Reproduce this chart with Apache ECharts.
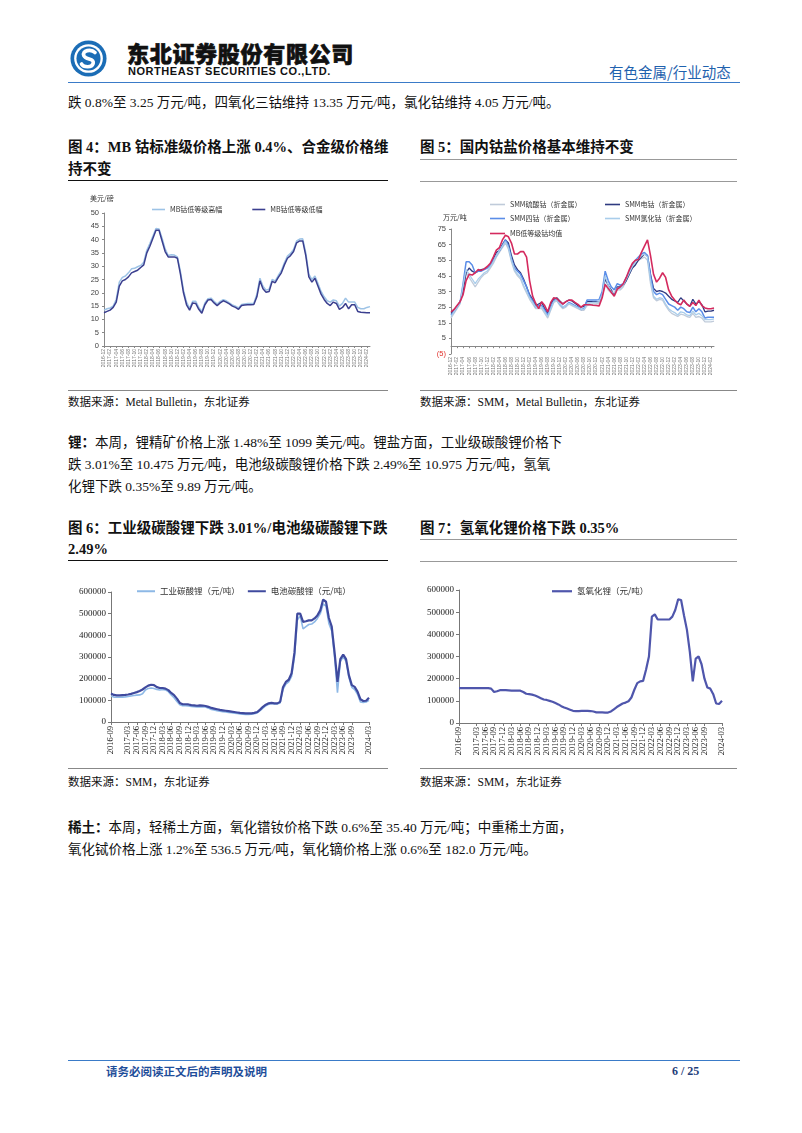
<!DOCTYPE html>
<html><head><meta charset="utf-8">
<script src="https://cdn.jsdelivr.net/npm/echarts@6/dist/echarts.min.js"></script>
<style>
html,body{margin:0;padding:0;background:#fff;}
body{width:802px;height:1133px;position:relative;overflow:hidden;font-family:"Liberation Serif","Noto Sans CJK SC",serif;color:#111;}
.abs{position:absolute;white-space:nowrap;}
.p{font-size:13.5px;line-height:22px;}
.t{font-size:14.5px;font-weight:bold;line-height:22px;}
.src{font-size:11.5px;line-height:16px;}
.hr{position:absolute;height:0;}
.chart{position:absolute;}
</style></head><body>

<svg class="abs" style="left:70px;top:40px" width="37" height="37" viewBox="0 0 40 40">
<circle cx="20" cy="20" r="19.5" fill="#1B6DB6"/>
<circle cx="20" cy="20" r="15.5" fill="#fff"/>
<circle cx="20" cy="20" r="13" fill="#1B6DB6"/>
<path d="M27 13.5 C23 9.5 12.5 11 15 17 C17.5 22 26.5 19 25 25.5 C23.5 30.5 14.5 29.5 12.5 26" stroke="#fff" stroke-width="4" fill="none" stroke-linecap="round"/>
</svg>
<div class="abs" style="left:127px;top:39px;font-family:'Noto Sans CJK SC';font-weight:900;font-size:22px;line-height:26px;letter-spacing:0.7px;color:#111;-webkit-text-stroke:0.7px #111">东北证券股份有限公司</div>
<div class="abs" style="left:128px;top:64px;font-family:'Liberation Sans',Arial,sans-serif;font-weight:bold;font-size:11px;line-height:14px;letter-spacing:0.55px;color:#111">NORTHEAST SECURITIES CO.,LTD.</div>
<div class="abs" style="left:609px;top:62px;font-family:'Noto Sans CJK SC';font-size:14.5px;line-height:20px;color:#1F62AE">有色金属/行业动态</div>
<div class="hr" style="left:68px;top:82px;width:672px;border-top:1.5px solid #3A7BC8"></div>

<div class="abs p" style="left:68px;top:92px">跌 0.8%至 3.25 万元/吨，四氧化三钴维持 13.35 万元/吨，氯化钴维持 4.05 万元/吨。</div>

<div class="abs t" style="left:68px;top:136px">图 4：MB 钴标准级价格上涨 0.4%、合金级价格维</div>
<div class="abs t" style="left:68px;top:158px">持不变</div>
<div class="hr" style="left:68px;top:180px;width:320px;border-top:1.5px solid #111"></div>
<div class="abs t" style="left:420px;top:136px">图 5：国内钴盐价格基本维持不变</div>
<div class="hr" style="left:420px;top:159px;width:317px;border-top:1px solid #999"></div>
<div class="hr" style="left:420px;top:181px;width:317px;border-top:1px solid #999"></div>

<div id="c4" class="chart" style="left:68px;top:190px;width:320px;height:195px"></div>
<div id="c5" class="chart" style="left:420px;top:190px;width:317px;height:195px"></div>

<div class="hr" style="left:68px;top:390px;width:320px;border-top:1px solid #888"></div>
<div class="hr" style="left:420px;top:390px;width:317px;border-top:1px solid #888"></div>
<div class="abs src" style="left:68px;top:394px">数据来源：Metal Bulletin，东北证券</div>
<div class="abs src" style="left:420px;top:394px">数据来源：SMM，Metal Bulletin，东北证券</div>

<div class="abs p" style="left:68px;top:432px"><b>锂：</b>本周，锂精矿价格上涨 1.48%至 1099 美元/吨。锂盐方面，工业级碳酸锂价格下</div>
<div class="abs p" style="left:68px;top:454px">跌 3.01%至 10.475 万元/吨，电池级碳酸锂价格下跌 2.49%至 10.975 万元/吨，氢氧</div>
<div class="abs p" style="left:68px;top:476px">化锂下跌 0.35%至 9.89 万元/吨。</div>

<div class="abs t" style="left:68px;top:517px">图 6：工业级碳酸锂下跌 3.01%/电池级碳酸锂下跌</div>
<div class="abs t" style="left:68px;top:538px">2.49%</div>
<div class="hr" style="left:68px;top:560px;width:320px;border-top:1.5px solid #111"></div>
<div class="abs t" style="left:420px;top:517px">图 7：氢氧化锂价格下跌 0.35%</div>
<div class="hr" style="left:420px;top:539px;width:317px;border-top:1px solid #999"></div>
<div class="hr" style="left:420px;top:561px;width:317px;border-top:1px solid #999"></div>

<div id="c6" class="chart" style="left:68px;top:565px;width:320px;height:200px"></div>
<div id="c7" class="chart" style="left:420px;top:565px;width:317px;height:200px"></div>

<div class="hr" style="left:68px;top:768px;width:320px;border-top:1px solid #888"></div>
<div class="hr" style="left:420px;top:768px;width:317px;border-top:1px solid #888"></div>
<div class="abs src" style="left:68px;top:774px">数据来源：SMM，东北证券</div>
<div class="abs src" style="left:420px;top:774px">数据来源：SMM，东北证券</div>

<div class="abs p" style="left:68px;top:817px"><b>稀土：</b>本周，轻稀土方面，氧化镨钕价格下跌 0.6%至 35.40 万元/吨；中重稀土方面，</div>
<div class="abs p" style="left:68px;top:839px">氧化铽价格上涨 1.2%至 536.5 万元/吨，氧化镝价格上涨 0.6%至 182.0 万元/吨。</div>

<div class="hr" style="left:68px;top:1060px;width:672px;border-top:1.5px solid #3A7BC8"></div>
<div class="abs" style="left:106px;top:1063px;font-family:'Noto Sans CJK SC';font-weight:bold;font-size:11.5px;line-height:16px;color:#1F4E9A">请务必阅读正文后的声明及说明</div>
<div class="abs" style="left:672px;top:1063px;font-weight:bold;font-size:12px;line-height:16px;color:#1F3E7A">6 / 25</div>

<script>
// ---- cobalt charts (fig 4, fig 5): monthly 2016-12 .. 2024-03 ----
const catsCo = ['2016-12',
'2017-01','2017-02','2017-03','2017-04','2017-05','2017-06','2017-07','2017-08','2017-09','2017-10','2017-11','2017-12',
'2018-01','2018-02','2018-03','2018-04','2018-05','2018-06','2018-07','2018-08','2018-09','2018-10','2018-11','2018-12',
'2019-01','2019-02','2019-03','2019-04','2019-05','2019-06','2019-07','2019-08','2019-09','2019-10','2019-11','2019-12',
'2020-01','2020-02','2020-03','2020-04','2020-05','2020-06','2020-07','2020-08','2020-09','2020-10','2020-11','2020-12',
'2021-01','2021-02','2021-03','2021-04','2021-05','2021-06','2021-07','2021-08','2021-09','2021-10','2021-11','2021-12',
'2022-01','2022-02','2022-03','2022-04','2022-05','2022-06','2022-07','2022-08','2022-09','2022-10','2022-11','2022-12',
'2023-01','2023-02','2023-03','2023-04','2023-05','2023-06','2023-07','2023-08','2023-09','2023-10','2023-11','2023-12',
'2024-01','2024-02','2024-03'];

const coHigh = [13.5,14,14.3,15,17.5,24,25.8,26.3,27.5,29,29.2,29.8,30.3,31.5,36,38.5,41.3,44.2,44,40.5,36.5,34,34.3,34.2,33.5,28,21,16.5,14.2,16.8,16.8,14.5,13,16.2,17.8,18,16.8,15.8,16.8,17.4,17,16.2,15.4,15,14.3,15.6,15.8,16,16,16.1,19.5,25.5,22.5,21,21.3,25,24.5,26.5,28.3,31.3,33.8,34.8,36.3,39.5,40.2,40.3,35,27,25,26.3,23.5,20.5,18.5,17,16.5,17.3,17,15,16,18,16.5,16.5,16.5,14.5,14,14,14.5,14.8];
const coLow = [12.5,13,13.5,14.5,16.5,22.5,24.5,25,26,27.5,28,28.5,29.5,30.5,35,37.5,40.5,43.5,43.5,39.5,35.5,33.5,33.5,33.5,33,27,20,15.5,13.5,16.2,16,13.8,12.3,15.5,17.3,17.5,16.2,15.2,16.2,17,16.5,15.8,15,14.5,13.8,15.2,15.4,15.5,15.5,15.6,18.5,24.5,21.5,20.2,20.5,24.3,23.8,25.8,27.5,30.5,33,34,35.5,38.8,39.5,39.5,34,26,24,25.5,22.5,19.5,17.5,16,15.2,16.5,16,13.8,14.5,16,14,15.5,15.5,13,12.7,12.6,12.5,12.5];

const smmSulfate = [18,21,24,27,38,47,44,41,38,41,44,46,47,50,53,57,60,63,66,62,54,48,45,43,38,34,30,27,24,24,24,21,18,23,28,29,26,24,25,27,26,25,24,23,23,26,26.5,27,27,27.5,32,40,36,34,33,36,36,38,42,46,50,53,55,56,57,55,40,31,29,30,29.5,26,23,21,20,19,20.5,20,19,18.5,21,18.5,19,18,15.5,15.5,15.5,16];
const smmCathode = [21,23,25.5,28.5,35,47,50,48,47,48,49,49.5,50.5,52,56,60,61,65,68,66,58,52,49,47,43,38,33,30,26,27,28,24,21,27,30,31,29,27,28.5,29.5,29,27.5,26,25,25.5,28.5,28.5,28.5,28.5,28.5,33,43,39,36,33,38,38,39,42,46,50,52,55,57,59,58,46,37,35,35.5,35,34,32,30,29,28,31,29,27,25.5,30,27,28.5,26.5,22,22.5,22.5,23];
const smmTetroxide = [20,22,25,28,40,54,54,52,47,48,48,49,50,52,55,58,61,64,68,64,56,50,48,46,42,38,32,29,25,26,26,23,20,25,29,30,27,25,26,28,27,26,25,23.5,24,29.5,29.5,29.5,29.5,29.8,35,48,42,38,36,40,39,40,44,48,52,55,57,59,60,58,45,35,33,34,33,30,27,26,25,23,25,24,22,21.5,25,22,24,22,18,18.5,18.5,18.5];
const smmChloride = [19,22,25,27.5,39,49,46,43,40,43,45,47,48,51,54,58,61,64,67,63,55,49,46,44,39,35,31,28,25,25,25,22,19,24,28.5,29.5,27,25,26,27.5,26.5,25.5,24.5,23.5,23.5,27,27.5,28,28,28.5,33,45,39,35,34,37,37,39,43,47,51,54,56,58,59,57,42,32,30,31,30.5,27,24,22.5,21.5,20,22,21.5,20,19.5,22.5,20,21,19.5,17,17,17,17.5];
const mbLowAvg = [22,23.5,26,28.5,33,42,46,45.5,47,49,48.5,49.5,51,53,57,61.5,63,68,71,70,66,59,59,60.5,60.5,57,42,32,27.5,24,28.5,26,22,28,31,30.5,28.5,27,28.5,29.5,29.5,28,26.8,25,26.5,26.5,26.5,26.2,26,25.8,31,39.5,37,34.5,32,36.5,38,40,44,49,53,55,55.5,60,64,68,58,46,41,43.5,47,44,36,32,29.5,27.5,26.5,29.5,27,25.5,28,26,29.5,26,24.5,24,24,24.5];

// ---- lithium charts (fig 6, fig 7): monthly 2016-09 .. 2024-03 ----
const catsLi = ['2016-09','2016-10','2016-11','2016-12',
'2017-01','2017-02','2017-03','2017-04','2017-05','2017-06','2017-07','2017-08','2017-09','2017-10','2017-11','2017-12',
'2018-01','2018-02','2018-03','2018-04','2018-05','2018-06','2018-07','2018-08','2018-09','2018-10','2018-11','2018-12',
'2019-01','2019-02','2019-03','2019-04','2019-05','2019-06','2019-07','2019-08','2019-09','2019-10','2019-11','2019-12',
'2020-01','2020-02','2020-03','2020-04','2020-05','2020-06','2020-07','2020-08','2020-09','2020-10','2020-11','2020-12',
'2021-01','2021-02','2021-03','2021-04','2021-05','2021-06','2021-07','2021-08','2021-09','2021-10','2021-11','2021-12',
'2022-01','2022-02','2022-03','2022-04','2022-05','2022-06','2022-07','2022-08','2022-09','2022-10','2022-11','2022-12',
'2023-01','2023-02','2023-03','2023-04','2023-05','2023-06','2023-07','2023-08','2023-09','2023-10','2023-11','2023-12',
'2024-01','2024-02','2024-03'];

const liCarbIndustrial = [120000,115000,114000,114000,115000,116000,118000,120000,122000,124000,125000,130000,148000,155000,157000,155000,150000,148000,150000,148000,140000,125000,112000,95000,80000,75000,75000,74000,72000,71000,70000,71000,70000,69000,64000,58000,55000,52000,50000,48000,46000,44000,43000,41000,39000,37000,36000,35000,35000,36000,38000,42000,52000,64000,75000,82000,85000,83000,83000,88000,150000,175000,185000,210000,300000,470000,490000,430000,440000,450000,452000,462000,478000,500000,545000,535000,455000,420000,300000,135000,280000,300000,280000,205000,160000,150000,128000,92000,90000,92000,100000];
const liCarbBattery = [131000,125000,123000,123000,124000,125000,127000,130000,134000,138000,143000,150000,160000,168000,172000,170000,161000,157000,157000,154000,147000,134000,124000,108000,88000,82000,82000,81000,78000,77000,75000,77000,76000,74000,70000,65000,62000,59000,56000,54000,52000,50000,48000,46000,44000,42000,41000,40000,40000,40000,42000,46000,57000,70000,80000,86000,88000,86000,86000,93000,160000,185000,195000,225000,320000,500000,500000,462000,465000,469000,469000,478000,492000,515000,565000,555000,480000,440000,320000,185000,290000,311000,290000,215000,170000,162000,140000,105000,97000,98000,112000];
const liHydroxide = [157000,157000,157000,157000,157000,157000,157000,157000,157000,157000,157000,155000,140000,143000,148000,148000,148000,147000,146000,146000,146000,146000,140000,132000,130000,128000,124000,118000,112000,106000,104000,100000,96000,90000,84000,76000,70000,65000,60000,55000,54000,54000,55000,55000,55000,54000,52000,48000,48000,48000,47000,47000,52000,62000,72000,80000,88000,92000,98000,115000,150000,180000,188000,190000,240000,300000,480000,490000,467000,467000,467000,467000,467000,480000,510000,558000,555000,485000,420000,320000,188000,290000,300000,265000,200000,160000,155000,130000,88000,86000,100000];

const CJK = 'Noto Sans CJK SC';

// Fig 4
const c4 = echarts.init(document.getElementById('c4'), null, {renderer:'canvas'});
c4.setOption({
  animation:false,
  grid:{left:36,right:18,top:23,bottom:39},
  graphic:[{type:'text',left:22,top:5,style:{text:'美元/磅',fontSize:7,fill:'#333',fontFamily:CJK}}],
  legend:{left:79,top:11,icon:'rect',itemWidth:13,itemHeight:1.6,itemGap:30,textStyle:{fontSize:7,color:'#333',fontFamily:CJK},data:['MB钴低等级高幅','MB钴低等级低幅']},
  xAxis:{type:'category',data:catsCo,boundaryGap:false,
    axisLine:{lineStyle:{color:'#888'}},
    axisTick:{interval:1,length:2,lineStyle:{color:'#888'}},
    axisLabel:{interval:1,rotate:90,fontSize:5,color:'#777',margin:3}},
  yAxis:{type:'value',min:0,max:50,interval:5,
    axisLine:{show:true,lineStyle:{color:'#888'}},axisTick:{show:true,length:2,lineStyle:{color:'#888'}},
    splitLine:{show:false},axisLabel:{fontSize:7.5,color:'#444',margin:5,fontFamily:'Liberation Sans'}},
  series:[
    {name:'MB钴低等级高幅',type:'line',data:coHigh,symbol:'none',lineStyle:{width:1.5,color:'#9DC3E6'},itemStyle:{color:'#9DC3E6'}},
    {name:'MB钴低等级低幅',type:'line',data:coLow,symbol:'none',lineStyle:{width:1.5,color:'#3B3F8F'},itemStyle:{color:'#3B3F8F'}}
  ]
});

// Fig 5
const c5 = echarts.init(document.getElementById('c5'), null, {renderer:'canvas'});
const lg = (name,left,top)=>({left:left,top:top,icon:'rect',itemWidth:15,itemHeight:1.6,textStyle:{fontSize:7,color:'#333',fontFamily:CJK},data:[name]});
c5.setOption({
  animation:false,
  grid:{left:31,right:23,top:39,bottom:31},
  graphic:[{type:'text',left:23,top:24,style:{text:'万元/吨',fontSize:7,fill:'#333',fontFamily:CJK}}],
  legend:[
    lg('SMM硫酸钴（折金属）',65,6), lg('SMM电钴（折金属）',180,6),
    lg('SMM四钴（折金属）',65,20), lg('SMM氯化钴（折金属）',180,20),
    lg('MB低等级钴均值',65,35)
  ],
  xAxis:{type:'category',data:catsCo,boundaryGap:false,
    axisLine:{onZero:true,lineStyle:{color:'#888'}},
    axisTick:{interval:1,length:2,lineStyle:{color:'#888'}},
    axisLabel:{interval:1,rotate:90,fontSize:5,color:'#777',margin:3}},
  yAxis:{type:'value',min:-5,max:75,interval:10,
    axisLine:{show:true,lineStyle:{color:'#888'}},axisTick:{show:true,length:2,lineStyle:{color:'#888'}},
    splitLine:{show:false},
    axisLabel:{fontSize:7.5,margin:5,fontFamily:'Liberation Sans',
      formatter:v=>v<0?'('+(-v)+')':String(v),
      color:v=>Number(v)<0?'#E0302A':'#444'}},
  series:[
    {name:'SMM硫酸钴（折金属）',type:'line',data:smmSulfate,symbol:'none',lineStyle:{width:1.3,color:'#C0CBDA'},itemStyle:{color:'#C0CBDA'}},
    {name:'SMM电钴（折金属）',type:'line',data:smmCathode,symbol:'none',lineStyle:{width:1.3,color:'#2E3A80'},itemStyle:{color:'#2E3A80'}},
    {name:'SMM四钴（折金属）',type:'line',data:smmTetroxide,symbol:'none',lineStyle:{width:1.5,color:'#5A8DE8'},itemStyle:{color:'#5A8DE8'}},
    {name:'SMM氯化钴（折金属）',type:'line',data:smmChloride,symbol:'none',lineStyle:{width:1.3,color:'#A9CDEB'},itemStyle:{color:'#A9CDEB'}},
    {name:'MB低等级钴均值',type:'line',data:mbLowAvg,symbol:'none',lineStyle:{width:1.6,color:'#D42A5E'},itemStyle:{color:'#D42A5E'}}
  ]
});

// Fig 6
const liAxisX = {type:'category',data:catsLi,boundaryGap:false,
    axisLine:{lineStyle:{color:'#777'}},
    axisTick:{interval:2,length:3,lineStyle:{color:'#777'}},
    axisLabel:{interval:2,rotate:90,fontSize:8.5,color:'#222',margin:4,fontFamily:'Liberation Serif',showMaxLabel:true,showMinLabel:true}};
const liAxisY = {type:'value',min:0,max:600000,interval:100000,
    axisLine:{show:true,lineStyle:{color:'#777'}},axisTick:{show:true,length:3,lineStyle:{color:'#777'}},
    splitLine:{show:false},axisLabel:{fontSize:9,color:'#222',margin:5,fontFamily:'Liberation Serif',formatter:v=>String(v)}};
const c6 = echarts.init(document.getElementById('c6'), null, {renderer:'canvas'});
c6.setOption({
  animation:false,
  grid:{left:43,right:19,top:27,bottom:43},
  legend:{left:64,top:17,icon:'rect',itemWidth:18,itemHeight:2,itemGap:8,textStyle:{fontSize:8.5,color:'#333',fontFamily:CJK},data:['工业碳酸锂（元/吨）','电池碳酸锂（元/吨）']},
  xAxis:liAxisX, yAxis:liAxisY,
  series:[
    {name:'工业碳酸锂（元/吨）',type:'line',data:liCarbIndustrial,symbol:'none',lineStyle:{width:1.6,color:'#8DB8E6'},itemStyle:{color:'#8DB8E6'}},
    {name:'电池碳酸锂（元/吨）',type:'line',data:liCarbBattery,symbol:'none',lineStyle:{width:2.2,color:'#3F4A9E'},itemStyle:{color:'#3F4A9E'}}
  ]
});

// Fig 7
const c7 = echarts.init(document.getElementById('c7'), null, {renderer:'canvas'});
c7.setOption({
  animation:false,
  grid:{left:39,right:15,top:25,bottom:42},
  legend:{left:127,top:17,icon:'rect',itemWidth:20,itemHeight:2.2,textStyle:{fontSize:8.5,color:'#333',fontFamily:CJK},data:['氢氧化锂（元/吨）']},
  xAxis:liAxisX, yAxis:liAxisY,
  series:[
    {name:'氢氧化锂（元/吨）',type:'line',data:liHydroxide,symbol:'none',lineStyle:{width:2.2,color:'#4F56AC'},itemStyle:{color:'#4F56AC'}}
  ]
});
</script>
</body></html>
